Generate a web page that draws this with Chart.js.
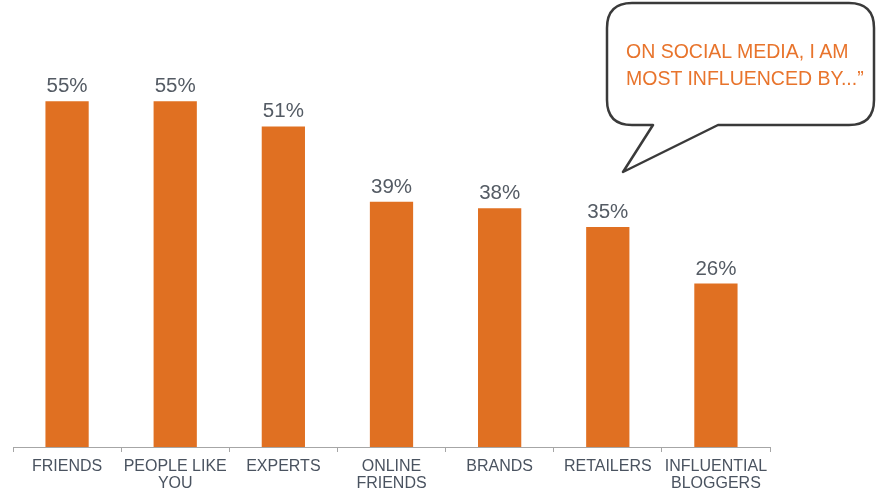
<!DOCTYPE html>
<html>
<head>
<meta charset="utf-8">
<script src="https://cdn.jsdelivr.net/npm/chart.js@4.4.0/dist/chart.umd.min.js"></script>
<style>
body { margin: 0; background: #fff; }
#wrap { position: relative; width: 876px; height: 497px; }
#bubble { position: absolute; left: 0; top: 0; }
#quote {
    position: absolute; left: 626px; top: 38px;
    font-family: "Liberation Sans", Arial, sans-serif;
    font-size: 19.5px; line-height: 27px; color: #e8742c;
    white-space: nowrap;
}
</style>
</head>
<body>
<div id="wrap">
    <canvas id="bar-chart-area" width="876" height="497"></canvas>
    <svg id="bubble" width="876" height="497">
        <path d="M632 3 H849 Q874 3 874 28 V100 Q874 125 849 125 H718 L623 172 L653 125 H632 Q607 125 607 100 V28 Q607 3 632 3 Z"
              fill="#fff" stroke="#3a3a3a" stroke-width="2.5" stroke-linejoin="round"/>
    </svg>
    <div id="quote">ON SOCIAL MEDIA, I AM<br>MOST INFLUENCED BY...&rdquo;</div>
</div>
<script>
var arrLabel = [
    'FRIENDS',
    ['PEOPLE LIKE', 'YOU'],
    'EXPERTS',
    ['ONLINE', 'FRIENDS'],
    'BRANDS',
    'RETAILERS',
    ['INFLUENTIAL', 'BLOGGERS']
];
var arrData = [55, 55, 51, 39, 38, 35, 26];

var valueLabels = {
    id: 'valueLabels',
    afterDatasetsDraw: function (chart) {
        var ctx = chart.ctx;
        var meta = chart.getDatasetMeta(0);
        ctx.save();
        ctx.font = '20.5px "Liberation Sans", Arial, sans-serif';
        ctx.fillStyle = '#545b64';
        ctx.textAlign = 'center';
        ctx.textBaseline = 'alphabetic';
        meta.data.forEach(function (bar, i) {
            ctx.fillText(arrData[i] + '%', bar.x, bar.y - 9);
        });
        ctx.restore();
    }
};

var configBar = {
    type: 'bar',
    data: {
        labels: arrLabel,
        datasets: [{
            data: arrData,
            backgroundColor: '#e07022',
            categoryPercentage: 1,
            barPercentage: 0.4
        }]
    },
    options: {
        responsive: false,
        animation: false,
        layout: {
            padding: {left: 13, right: 106, top: 7, bottom: 0}
        },
        plugins: {
            legend: {display: false},
            tooltip: {enabled: false}
        },
        scales: {
            x: {
                grid: {
                    drawOnChartArea: false,
                    drawTicks: true,
                    tickLength: 5,
                    color: '#a6a6a6',
                    offset: true
                },
                border: {display: true, color: '#a6a6a6', width: 1},
                ticks: {
                    maxRotation: 0,
                    autoSkip: false,
                    padding: 6,
                    color: '#4a5360',
                    font: {family: '"Liberation Sans", Arial, sans-serif', size: 16, lineHeight: 1.05}
                },
                afterFit: function (scale) {
                    scale.height = 50;
                }
            },
            y: {
                display: false,
                min: 0,
                max: 70
            }
        }
    },
    plugins: [valueLabels]
};

var myBar = new Chart(document.getElementById('bar-chart-area').getContext('2d'), configBar);
</script>
</body>
</html>
